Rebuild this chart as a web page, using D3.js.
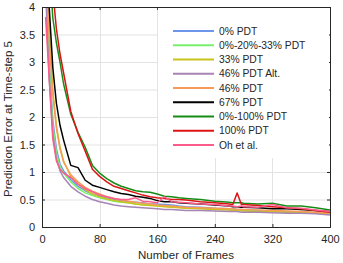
<!DOCTYPE html>
<html>
<head>
<meta charset="utf-8">
<script src="https://cdn.jsdelivr.net/npm/d3@7"></script>
<style>
  body { margin: 0; background: #fff; }
  svg { display: block; font-family: "Liberation Sans", Arial, sans-serif; }
</style>
</head>
<body>
<div class="chart-container"></div>
<script>
(function() {
  ////////////////////////////////////////////////////////////
  //// Data //////////////////////////////////////////////////
  ////////////////////////////////////////////////////////////
  const frames = [5, 10, 15, 20, 25, 30, 40, 50, 60, 70, 80, 90, 100, 110, 120, 130, 140, 150,
    160, 170, 180, 190, 200, 220, 240, 260, 265, 271, 277, 280, 300, 320, 340, 360, 380, 400];

  const pdt0 = [4.6, 3.0, 1.95, 1.42, 1.15, 1.02, 0.86, 0.74, 0.66, 0.6, 0.56, 0.53, 0.5, 0.48, 0.46, 0.45, 0.44, 0.42,
    0.42, 0.41, 0.4, 0.38, 0.37, 0.36, 0.34, 0.33, 0.33, 0.32, 0.32, 0.31, 0.3, 0.29, 0.28, 0.27, 0.26, 0.24];
  const pdt0_20_33 = [4.5, 2.9, 1.85, 1.35, 1.1, 0.98, 0.82, 0.7, 0.62, 0.57, 0.53, 0.5, 0.47, 0.45, 0.44, 0.42, 0.41, 0.4,
    0.39, 0.38, 0.37, 0.36, 0.35, 0.34, 0.33, 0.32, 0.31, 0.31, 0.3, 0.3, 0.29, 0.28, 0.27, 0.27, 0.26, 0.25];
  const pdt33 = [5.2, 3.6, 2.5, 1.85, 1.45, 1.2, 0.92, 0.78, 0.68, 0.6, 0.55, 0.51, 0.48, 0.46, 0.44, 0.42, 0.4, 0.39,
    0.38, 0.37, 0.36, 0.35, 0.34, 0.33, 0.32, 0.31, 0.3, 0.3, 0.3, 0.29, 0.28, 0.28, 0.27, 0.26, 0.25, 0.24];
  const pdt46alt = [4.3, 2.7, 1.7, 1.25, 1.02, 0.9, 0.74, 0.64, 0.56, 0.5, 0.46, 0.43, 0.4, 0.38, 0.37, 0.36, 0.35, 0.34,
    0.33, 0.32, 0.32, 0.31, 0.3, 0.3, 0.29, 0.28, 0.28, 0.28, 0.27, 0.27, 0.27, 0.26, 0.25, 0.25, 0.24, 0.22];
  const pdt46 = [5.0, 3.4, 2.4, 1.8, 1.42, 1.18, 0.95, 0.82, 0.72, 0.65, 0.6, 0.55, 0.52, 0.49, 0.47, 0.45, 0.43, 0.42,
    0.4, 0.39, 0.38, 0.37, 0.36, 0.35, 0.34, 0.33, 0.33, 0.32, 0.32, 0.32, 0.31, 0.3, 0.29, 0.28, 0.27, 0.25];
  const pdt67 = [5.5, 4.0, 2.9, 2.25, 1.85, 1.58, 1.12, 1.08, 0.85, 0.76, 0.72, 0.68, 0.64, 0.61, 0.59, 0.56, 0.54, 0.52,
    0.48, 0.46, 0.46, 0.44, 0.43, 0.42, 0.4, 0.38, 0.37, 0.37, 0.36, 0.36, 0.35, 0.33, 0.33, 0.32, 0.3, 0.28];
  const pdt0_100 = [6.0, 4.8, 3.8, 3.35, 3.0, 2.6, 2.05, 1.72, 1.45, 1.12, 0.98, 0.88, 0.8, 0.74, 0.7, 0.66, 0.64, 0.63,
    0.6, 0.56, 0.55, 0.53, 0.52, 0.5, 0.47, 0.45, 0.44, 0.44, 0.44, 0.43, 0.42, 0.43, 0.38, 0.38, 0.35, 0.31];
  const pdt100 = [6.5, 5.2, 4.3, 3.6, 3.15, 2.8, 2.1, 1.7, 1.38, 1.05, 0.92, 0.82, 0.74, 0.7, 0.66, 0.62, 0.58, 0.55,
    0.53, 0.52, 0.5, 0.5, 0.49, 0.46, 0.44, 0.42, 0.41, 0.62, 0.41, 0.41, 0.39, 0.37, 0.35, 0.33, 0.3, 0.27];
  const ohEtAl = [3.82, 2.7, 1.6, 1.2, 1.05, 0.98, 0.9, 0.78, 0.7, 0.64, 0.58, 0.55, 0.52, 0.5, 0.5, 0.53, 0.47, 0.46,
    0.44, 0.55, 0.46, 0.45, 0.44, 0.42, 0.41, 0.38, 0.38, 0.37, 0.38, 0.37, 0.36, 0.41, 0.35, 0.34, 0.31, 0.28];

  const seriesNames = ["0% PDT", "0%-20%-33% PDT", "33% PDT", "46% PDT Alt.", "46% PDT",
    "67% PDT", "0%-100% PDT", "100% PDT", "Oh et al."];
  const seriesValues = [pdt0, pdt0_20_33, pdt33, pdt46alt, pdt46, pdt67, pdt0_100, pdt100, ohEtAl];
  const seriesColors = ["#6b96ec", "#78f06e", "#c9c31a", "#a684b4", "#f79a5a",
    "#000000", "#168c16", "#dc1414", "#fb5c8c"];

  const xTicks = [0, 80, 160, 240, 320, 400];
  const yTicks = [0, 0.5, 1, 1.5, 2, 2.5, 3, 3.5, 4];

  ////////////////////////////////////////////////////////////
  //// Chart /////////////////////////////////////////////////
  ////////////////////////////////////////////////////////////
  const chartWidth = 343;
  const chartHeight = 263;
  const margin = { top: 7, right: 13, bottom: 36, left: 42 };
  const width = chartWidth - margin.left - margin.right;
  const height = chartHeight - margin.top - margin.bottom;
  const axisColor = "#262626";
  const gridColor = "#e3e3e3";
  const tickLen = 3;

  const xScale = d3.scaleLinear().domain([0, 400]).range([0, width]);
  const yScale = d3.scaleLinear().domain([0, 4]).range([height, 0]);

  const svg = d3
    .select(".chart-container")
    .append("svg")
    .attr("width", chartWidth)
    .attr("height", chartHeight)
    .attr("viewBox", [0, 0, chartWidth, chartHeight]);

  svg
    .append("defs")
    .append("clipPath")
    .attr("id", "plot-clip")
    .append("rect")
    .attr("width", width)
    .attr("height", height);

  const g = svg
    .append("g")
    .attr("transform", `translate(${margin.left},${margin.top})`);

  // horizontal grid
  g.append("g")
    .selectAll("line")
    .data(yTicks)
    .join("line")
    .attr("x1", 0)
    .attr("x2", width)
    .attr("y1", d => yScale(d) + 0.5)
    .attr("y2", d => yScale(d) + 0.5)
    .attr("stroke", gridColor);

  // legend background hides the horizontal grid
  const legendX = 116;
  const legendTop = 1;
  svg
    .append("rect")
    .attr("x", margin.left + legendX)
    .attr("y", margin.top + legendTop)
    .attr("width", width - legendX - 1)
    .attr("height", 150)
    .attr("fill", "#fff");

  // vertical grid
  g.append("g")
    .selectAll("line")
    .data(xTicks)
    .join("line")
    .attr("x1", d => Math.round(xScale(d)) + 0.5)
    .attr("x2", d => Math.round(xScale(d)) + 0.5)
    .attr("y1", 0)
    .attr("y2", height)
    .attr("stroke", gridColor);

  // series
  const line = d3
    .line()
    .x((d, i) => xScale(frames[i]))
    .y(d => yScale(d));

  g.append("g")
    .attr("clip-path", "url(#plot-clip)")
    .selectAll("path")
    .data(seriesValues)
    .join("path")
    .attr("d", line)
    .attr("fill", "none")
    .attr("stroke", (d, i) => seriesColors[i])
    .attr("stroke-width", 1.5)
    .attr("stroke-linejoin", "round");

  // axes
  g.append("g")
    .attr("transform", `translate(0,${height})`)
    .call(d3.axisBottom(xScale).tickValues(xTicks).tickSize(-tickLen).tickPadding(8));
  g.append("g")
    .call(d3.axisLeft(yScale).tickValues(yTicks).tickSize(-tickLen).tickPadding(7).tickFormat(d3.format("")));
  g.append("g")
    .call(d3.axisTop(xScale).tickValues(xTicks).tickSize(-tickLen).tickFormat(""));
  g.append("g")
    .attr("transform", `translate(${width},0)`)
    .call(d3.axisRight(yScale).tickValues(yTicks).tickSize(-tickLen).tickFormat(""));

  g.selectAll(".domain").attr("stroke", axisColor);
  g.selectAll(".tick line").attr("stroke", axisColor);
  g.selectAll(".tick text")
    .attr("fill", axisColor)
    .style("font-size", "11px")
    .style("font-family", "'Liberation Sans', Arial, sans-serif");

  // axis titles
  svg
    .append("text")
    .attr("x", margin.left + width / 2)
    .attr("y", chartHeight - 4)
    .attr("text-anchor", "middle")
    .attr("fill", axisColor)
    .style("font-size", "11.5px")
    .text("Number of Frames");

  svg
    .append("text")
    .attr("transform", `translate(12,${margin.top + height / 2 + 2}) rotate(-90)`)
    .attr("text-anchor", "middle")
    .attr("fill", axisColor)
    .style("font-size", "11.5px")
    .text("Prediction Error at Time-step 5");

  ////////////////////////////////////////////////////////////
  //// Legend ////////////////////////////////////////////////
  ////////////////////////////////////////////////////////////
  const legend = svg
    .append("g")
    .selectAll("g")
    .data(seriesNames)
    .join("g")
    .attr("transform", (d, i) => `translate(173,${31 + i * 14.25})`);

  legend
    .append("line")
    .attr("x1", 0)
    .attr("x2", 41)
    .attr("stroke", (d, i) => seriesColors[i])
    .attr("stroke-width", 2);

  legend
    .append("text")
    .attr("x", 46)
    .attr("dy", "0.35em")
    .attr("fill", axisColor)
    .style("font-size", "10.3px")
    .text(d => d);
})();
</script>
</body>
</html>
